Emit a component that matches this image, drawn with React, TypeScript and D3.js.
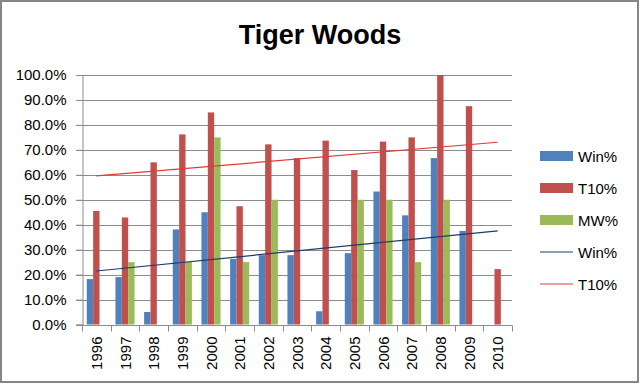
import React, { useEffect, useRef } from 'react';
import * as d3 from 'd3';

const years = ['1996', '1997', '1998', '1999', '2000', '2001', '2002', '2003', '2004', '2005', '2006', '2007', '2008', '2009', '2010'];
const winPct = [0.182, 0.19, 0.05, 0.381, 0.45, 0.263, 0.278, 0.278, 0.053, 0.286, 0.533, 0.4375, 0.667, 0.375, 0];
const top10Pct = [0.455, 0.429, 0.65, 0.762, 0.85, 0.474, 0.722, 0.667, 0.737, 0.619, 0.733, 0.75, 1.0, 0.875, 0.222];
const majorWinPct = [0, 0.25, 0, 0.25, 0.75, 0.25, 0.5, 0, 0, 0.5, 0.5, 0.25, 0.5, 0, 0];
const yTicks = [0, 0.1, 0.2, 0.3, 0.4, 0.5, 0.6, 0.7, 0.8, 0.9, 1.0];

const series = [
  { name: 'Win%', values: winPct, color: '#4F81BD' },
  { name: 'T10%', values: top10Pct, color: '#C0504D' },
  { name: 'MW%', values: majorWinPct, color: '#9BBB59' },
];
const trends = [
  { name: 'Win%', values: winPct, color: '#1F3D6B' },
  { name: 'T10%', values: top10Pct, color: '#E03A3A' },
];

// least squares fit, same as the spreadsheet's linear trendline
const fitLine = (vals: number[]) => {
  const n = vals.length;
  const xs = vals.map((_, i) => i + 1);
  const mx = d3.mean(xs) as number;
  const my = d3.mean(vals) as number;
  const sxy = d3.sum(xs, (x, i) => (x - mx) * (vals[i] - my));
  const sxx = d3.sum(xs, x => (x - mx) * (x - mx));
  const slope = sxy / sxx;
  return xs.map(x => my + slope * (x - mx)).filter((_, i) => i === 0 || i === n - 1);
};

const FONT = '"Liberation Sans", Arial, sans-serif';

const App = () => {
  const svgRef = useRef<SVGSVGElement>(null);

  useEffect(() => {
    const width = 640;
    const height = 385;
    const plot = { left: 82, right: 512, top: 75, bottom: 324.5 };

    svgRef.current!.innerHTML = '';
    const svg = d3.select(svgRef.current)
      .attr('width', width)
      .attr('height', height);

    svg.append('rect')
      .attr('x', 1).attr('y', 1)
      .attr('width', width - 3).attr('height', 381)
      .attr('fill', '#fff')
      .attr('stroke', '#868686')
      .attr('stroke-width', 2);

    svg.append('text')
      .attr('x', 320).attr('y', 44)
      .attr('text-anchor', 'middle')
      .attr('font-family', FONT)
      .attr('font-weight', 'bold')
      .attr('font-size', 27)
      .text('Tiger Woods');

    const x = d3.scaleBand<string>().domain(years).range([plot.left, plot.right]);
    const xInner = d3.scaleBand<string>()
      .domain(series.map(s => s.name))
      .range([0, x.bandwidth()])
      .paddingOuter(0.75);
    const y = d3.scaleLinear().domain([0, 1]).range([plot.bottom, plot.top]);

    // gridlines
    svg.append('g')
      .selectAll('line')
      .data(yTicks)
      .enter()
      .append('line')
      .attr('x1', plot.left - 6)
      .attr('x2', plot.right)
      .attr('y1', d => Math.round(y(d)) + 0.5)
      .attr('y2', d => Math.round(y(d)) + 0.5)
      .attr('stroke', '#8c8c8c');

    // y axis
    const yAxis = svg.append('g')
      .attr('transform', `translate(${plot.left + 0.5},0)`)
      .call(d3.axisLeft(y).tickValues(yTicks).tickFormat(d3.format('.1%')).tickSize(6).tickPadding(10));
    yAxis.selectAll('line, path').attr('stroke', '#8c8c8c');
    yAxis.selectAll('text').attr('font-family', FONT).attr('font-size', 15).attr('fill', '#000');

    // bars
    series.forEach(s => {
      svg.append('g')
        .selectAll('rect')
        .data(s.values)
        .enter()
        .append('rect')
        .attr('x', (d, i) => (x(years[i]) as number) + (xInner(s.name) as number))
        .attr('y', d => y(d))
        .attr('width', xInner.bandwidth())
        .attr('height', d => plot.bottom - y(d))
        .attr('fill', s.color);
    });

    // x axis
    const bottomY = Math.round(plot.bottom) + 0.5;
    svg.append('line')
      .attr('x1', plot.left).attr('x2', plot.right)
      .attr('y1', bottomY).attr('y2', bottomY)
      .attr('stroke', '#8c8c8c');
    svg.append('g')
      .selectAll('line')
      .data([...years.map(yr => x(yr) as number), plot.right])
      .enter()
      .append('line')
      .attr('x1', d => Math.round(d) + 0.5)
      .attr('x2', d => Math.round(d) + 0.5)
      .attr('y1', bottomY)
      .attr('y2', bottomY + 6)
      .attr('stroke', '#8c8c8c');
    svg.append('g')
      .selectAll('text')
      .data(years)
      .enter()
      .append('text')
      .attr('transform', d => `translate(${(x(d) as number) + x.bandwidth() / 2 + 5.5},${plot.bottom + 12}) rotate(-90)`)
      .attr('text-anchor', 'end')
      .attr('font-family', FONT)
      .attr('font-size', 15)
      .text(d => d);

    // trendlines
    trends.forEach(t => {
      const ends = fitLine(t.values);
      svg.append('line')
        .attr('x1', (x(years[0]) as number) + x.bandwidth() / 2)
        .attr('x2', (x(years[years.length - 1]) as number) + x.bandwidth() / 2)
        .attr('y1', y(ends[0]))
        .attr('y2', y(ends[1]))
        .attr('stroke', t.color)
        .attr('stroke-width', 1.2);
    });

    // legend
    const legend = svg.append('g');
    const rowY = [156, 188, 220, 252, 284];
    series.forEach((s, i) => {
      legend.append('rect')
        .attr('x', 540).attr('y', rowY[i] - 5)
        .attr('width', 33).attr('height', 10)
        .attr('fill', s.color);
      legend.append('text')
        .attr('x', 578).attr('y', rowY[i] + 5.5)
        .attr('font-family', FONT).attr('font-size', 15)
        .text(s.name);
    });
    trends.forEach((t, j) => {
      const i = j + 3;
      legend.append('line')
        .attr('x1', 540).attr('x2', 573)
        .attr('y1', rowY[i]).attr('y2', rowY[i])
        .attr('stroke', t.color)
        .attr('stroke-width', 1.2);
      legend.append('text')
        .attr('x', 578).attr('y', rowY[i] + 5.5)
        .attr('font-family', FONT).attr('font-size', 15)
        .text(t.name);
    });
  }, []);

  return (
    <svg ref={svgRef} style={{ position: 'absolute', left: 0, top: 0 }}></svg>
  );
};

export default App;
